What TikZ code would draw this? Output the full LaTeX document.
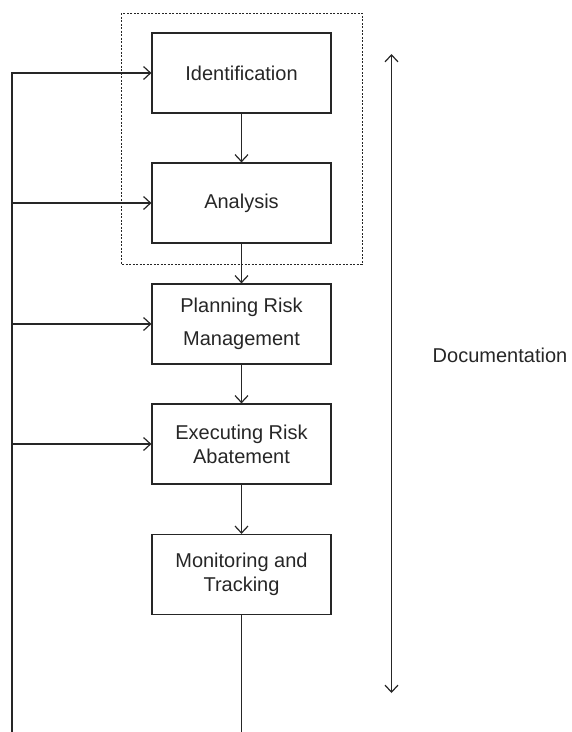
\documentclass[tikz,border=0pt]{standalone}
\usepackage{fontspec}
\setmainfont{Liberation Sans}
\usetikzlibrary{arrows.meta}
\begin{document}
\begin{tikzpicture}[x=1pt,y=-1pt,line width=1.2pt,color=black!85,
  box/.style={draw, minimum width=179pt, minimum height=80pt, inner sep=0pt, align=center, font=\fontsize{20}{24}\selectfont},
  arr/.style={-{Straight Barb[length=7pt,width=13pt]}},
  darr/.style={{Straight Barb[length=7pt,width=13pt]}-{Straight Barb[length=7pt,width=13pt]}}]
\useasboundingbox (0,0) rectangle (572,732);
\node[box] (id) at (241.5,73) {Identification};
\node[box] (an) at (241.5,203) {Analysis};
\node[box, font=\fontsize{20}{33}\selectfont] (pl) at (241.5,324) {Planning Risk\\Management};
\node[box] (ex) at (241.5,444) {Executing Risk\\Abatement};
\node[box] (mo) at (241.5,574.5) {Monitoring and\\Tracking};
\draw[dashed, line width=0.9pt, dash pattern=on 2pt off 1.5pt] (121,13) rectangle (362,264);
\draw[arr] (id) -- (an);
\draw[arr] (an) -- (pl);
\draw[arr] (pl) -- (ex);
\draw[arr] (ex) -- (mo);
\coordinate (cb) at (241.5,732);
\draw (mo) -- (cb);
\coordinate (lb) at (12,732);
\coordinate (l1) at (12,73);
\coordinate (l2) at (12,203);
\coordinate (l3) at (12,324);
\coordinate (l4) at (12,444);
\draw[arr] (lb) -- (l1) -- (id.west);
\draw[arr] (l2) -- (an.west);
\draw[arr] (l3) -- (pl.west);
\draw[arr] (l4) -- (ex.west);
\coordinate (dt) at (391.5,54);
\coordinate (db) at (391.5,693);
\draw[darr] (dt) -- (db);
\node[font=\fontsize{20}{24}\selectfont] (doc) at (500,355) {Documentation};
\end{tikzpicture}
\end{document}
